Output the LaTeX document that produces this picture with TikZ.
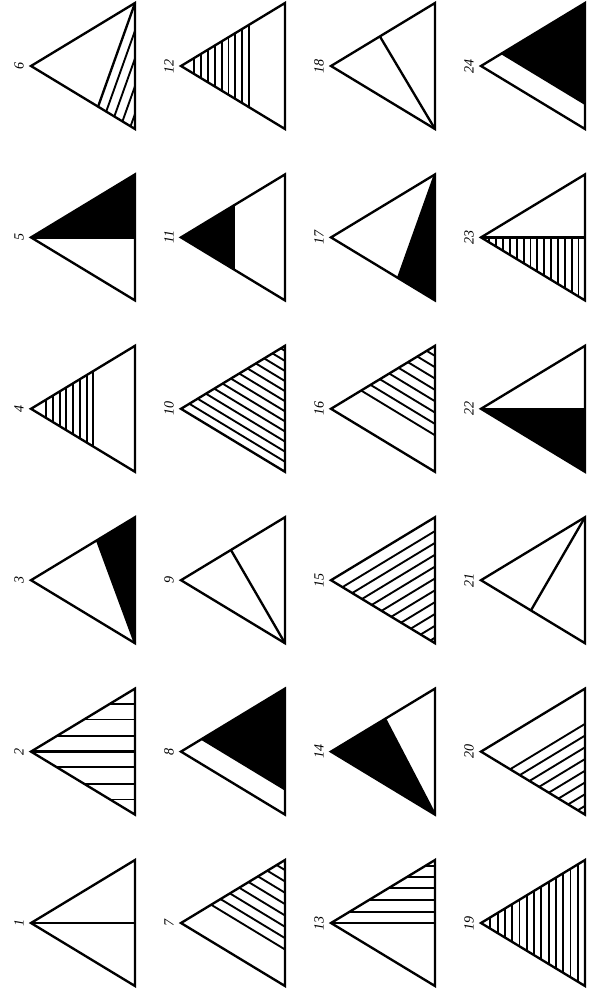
\documentclass[tikz,border=0pt]{standalone}
\usepackage{fontspec}
\setmainfont{Liberation Serif}
\usetikzlibrary{calc}

\begin{document}
\begin{tikzpicture}[
  x=0.03cm, y=-0.03cm,
  tri/.style={line width=2pt, line join=miter},
  hatch/.style={line width=1.6pt},
  blk/.style={fill=black},
  num/.style={rotate=90, font=\fontsize{12}{14}\selectfont\itshape, inner sep=0pt}
]
\useasboundingbox (0,0) rectangle (606,997);

% corners and numbers
\foreach \n in {1,...,24} {
  \pgfmathtruncatemacro\tcol{(\n-1)/6}
  \pgfmathtruncatemacro\trow{mod(\n-1,6)}
  \coordinate (a\n) at ({31+150*\tcol}, {66+171.4*(5-\trow)});
  \coordinate (t\n) at ($(a\n)+(104,-63)$);
  \coordinate (b\n) at ($(a\n)+(104,63)$);
  \coordinate (m\n) at ($(a\n)+(104,0)$);
  \node (n\n) [num] at ($(a\n)+(-12,0)$) {\n};
}

% 1
\draw[tri] (a1) -- (m1);
% 2
\draw[tri] (a2) -- (m2);
\foreach \f in {0.25,0.51,0.76} {
  \draw[hatch] ($(a2)!\f!(t2)$) -- ($(m2)!\f!(t2)$);
  \draw[hatch] ($(a2)!\f!(b2)$) -- ($(m2)!\f!(b2)$);
}
% 3
\coordinate (p3) at ($(a3)!0.635!(t3)$);
\fill[blk] (p3) -- (t3) -- (b3) -- cycle;
\draw[tri] (p3) -- (b3);
% 4
\foreach \j [evaluate=\j as \f using 0.6-0.065*\j] in {0,...,7}
  \draw[hatch] ($(a4)!\f!(t4)$) -- ($(a4)!\f!(b4)$);
% 5
\fill[blk] (a5) -- (t5) -- (m5) -- cycle;
\draw[tri] (a5) -- (m5);
% 6
\coordinate (p6) at ($(a6)!0.645!(b6)$);
\draw[tri] (p6) -- (t6);
\foreach \u in {0.78,0.56,0.34,0.12}
  \draw[hatch] ($(b6)!\u!(p6)$) -- ($(b6)!\u!(t6)$);
% 7
\foreach \f in {0.29,0.38,0.47,0.56,0.65,0.74,0.83,0.92}
  \draw[hatch] ($(a7)!\f!(t7)$) -- ($(b7)!\f!(t7)$);
% 8
\coordinate (p8) at ($(a8)!0.19!(t8)$);
\coordinate (q8) at ($(b8)!0.19!(t8)$);
\fill[blk] (p8) -- (t8) -- (q8) -- cycle;
% 9
\coordinate (p9) at ($(a9)!0.48!(t9)$);
\draw[tri] (p9) -- (b9);
% 10
\foreach \j [evaluate=\j as \f using 0.08*\j] in {1,...,12}
  \draw[hatch] ($(a10)!\f!(t10)$) -- ($(b10)!\f!(t10)$);
% 11
\coordinate (p11) at ($(a11)!0.51!(t11)$);
\coordinate (q11) at ($(a11)!0.51!(b11)$);
\fill[blk] (a11) -- (p11) -- (q11) -- cycle;
\draw[tri] (p11) -- (q11);
% 12
\foreach \j [evaluate=\j as \f using 0.655-0.066*\j] in {0,...,8}
  \draw[hatch] ($(a12)!\f!(t12)$) -- ($(a12)!\f!(b12)$);
% 13
\draw[tri] (a13) -- (m13);
\foreach \f in {0.18,0.37,0.55,0.73,0.91}
  \draw[hatch] ($(a13)!\f!(t13)$) -- ($(m13)!\f!(t13)$);
% 14
\coordinate (p14) at ($(a14)!0.52!(t14)$);
\fill[blk] (a14) -- (p14) -- (b14) -- cycle;
\draw[tri] (p14) -- (b14);
% 15
\foreach \j [evaluate=\j as \f using 0.11+0.094*\j] in {0,...,9}
  \draw[hatch] ($(a15)!\f!(b15)$) -- ($(t15)!\f!(b15)$);
% 16
\foreach \f in {0.29,0.38,0.47,0.56,0.65,0.74,0.83,0.92}
  \draw[hatch] ($(a16)!\f!(t16)$) -- ($(b16)!\f!(t16)$);
% 17
\coordinate (p17) at ($(a17)!0.645!(b17)$);
\fill[blk] (p17) -- (t17) -- (b17) -- cycle;
\draw[tri] (p17) -- (t17);
% 18
\coordinate (p18) at ($(a18)!0.47!(t18)$);
\draw[tri] (p18) -- (b18);
% 19
\foreach \j [evaluate=\j as \f using 0.09+0.07*\j] in {0,...,12}
  \draw[hatch] ($(a19)!\f!(t19)$) -- ($(a19)!\f!(b19)$);
% 20
\foreach \j [evaluate=\j as \f using 0.28+0.093*\j] in {0,...,7}
  \draw[hatch] ($(a20)!\f!(b20)$) -- ($(t20)!\f!(b20)$);
% 21
\coordinate (p21) at ($(a21)!0.48!(b21)$);
\draw[tri] (p21) -- (t21);
% 22
\fill[blk] (a22) -- (m22) -- (b22) -- cycle;
\draw[tri] (a22) -- (m22);
% 23
\draw[tri] (a23) -- (m23);
\foreach \j [evaluate=\j as \f using 0.08+0.066*\j] in {0,...,13}
  \draw[hatch] ($(a23)!\f!(m23)$) -- ($(a23)!\f!(b23)$);
% 24
\coordinate (p24) at ($(a24)!0.19!(t24)$);
\coordinate (q24) at ($(b24)!0.19!(t24)$);
\fill[blk] (p24) -- (t24) -- (q24) -- cycle;

% outlines
\foreach \n in {1,...,24}
  \draw[tri] (a\n) -- (t\n) -- (b\n) -- cycle;

\end{tikzpicture}
\end{document}
